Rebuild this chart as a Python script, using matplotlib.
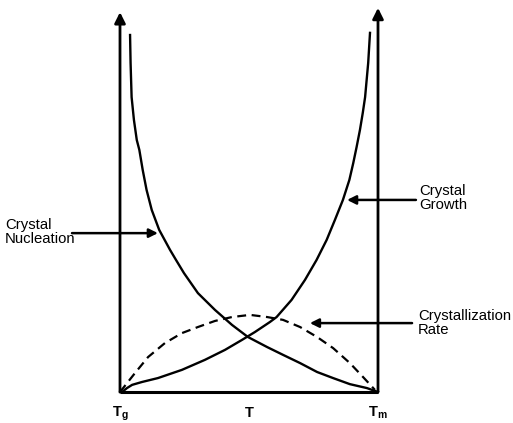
import matplotlib
matplotlib.use("Agg")
import matplotlib.pyplot as plt

# Normalized temperature (Tg = 0, Tm = 1) and relative rate (0-100)
nuc_x = [0.039, 0.041, 0.045, 0.054, 0.065, 0.075, 0.088, 0.103, 0.123, 0.152, 0.194, 0.217,
         0.248, 0.302, 0.368, 0.434, 0.496, 0.570, 0.632, 0.698, 0.764, 0.826, 0.891, 0.957, 1.0]
nuc_y = [100.0, 92.2, 82.6, 76.2, 70.6, 67.8, 62.2, 56.6, 51.0, 45.4, 39.8, 37.0,
         33.3, 27.7, 23.0, 18.8, 15.4, 12.6, 10.4, 8.1, 5.6, 3.9, 2.2, 1.1, 0.0]

gro_x = [0.0, 0.008, 0.027, 0.047, 0.085, 0.147, 0.240, 0.329, 0.407, 0.473, 0.523, 0.581,
         0.607, 0.665, 0.717, 0.762, 0.801, 0.833, 0.864, 0.889, 0.904, 0.917, 0.930,
         0.941, 0.950, 0.956, 0.962, 0.969]
gro_y = [0.0, 0.0, 1.1, 2.0, 2.8, 3.9, 6.2, 9.0, 11.8, 14.6, 16.8, 19.6,
         21.0, 25.8, 31.4, 37.0, 42.6, 48.2, 53.8, 59.4, 64.1, 68.6, 73.4,
         78.2, 82.6, 87.4, 92.2, 100.6]

rate_x = [0.0, 0.058, 0.109, 0.174, 0.240, 0.302, 0.368, 0.434, 0.504, 0.570, 0.632,
          0.698, 0.764, 0.826, 0.891, 0.942, 0.988]
rate_y = [0.0, 5.3, 9.8, 13.7, 16.5, 18.2, 19.9, 21.0, 21.6, 21.0, 20.2,
          18.2, 15.4, 12.3, 8.1, 4.2, 0.6]

tick_pos = [0.0, 0.5, 1.0]
tick_labels = [r"$\mathbf{T}_\mathbf{g}$", r"$\mathbf{T}$", r"$\mathbf{T}_\mathbf{m}$"]

plt.rcParams['font.family'] = ['Liberation Sans', 'DejaVu Sans']
plt.rcParams['mathtext.fontset'] = 'custom'
plt.rcParams['mathtext.rm'] = 'Liberation Sans'
plt.rcParams['mathtext.bf'] = 'Liberation Sans:bold'

fig = plt.figure(figsize=(5.13, 4.23), dpi=100)
ax = fig.add_axes([120/513, 31/423, 258/513, 357/423])
ax.set_xlim(0, 1)
ax.set_ylim(0, 100)
ax.axis('off')

# axes with arrows
ax.plot([0, 1], [0, 0], color='black', lw=2.2, clip_on=False, solid_capstyle='butt')
for xa, ytop in [(0, 106.4), (1, 107.6)]:
    ax.annotate('', xy=(xa, ytop), xytext=(xa, 0), annotation_clip=False,
                arrowprops=dict(arrowstyle='-|>', lw=2.0, color='black',
                                mutation_scale=16, shrinkA=0, shrinkB=0))

ax.plot(nuc_x, nuc_y, color='black', lw=1.7, clip_on=False, solid_joinstyle='round')
ax.plot(gro_x, gro_y, color='black', lw=1.7, clip_on=False, solid_joinstyle='round')
ax.plot(rate_x, rate_y, color='black', lw=1.6, clip_on=False, dashes=(4, 2.5))

for xp, lab in zip(tick_pos, tick_labels):
    ax.text(xp, -6.9, lab, ha='center', va='baseline', fontsize=10.5, clip_on=False)

# labels with arrows
ann = [
    ("Crystal\nNucleation", (-0.446, 44.8), (-0.186, 44.5), (0.147, 44.5)),
    ("Crystal\nGrowth", (1.159, 54.3), (1.147, 53.8), (0.880, 53.8)),
    ("Crystallization\nRate", (1.155, 19.3), (1.132, 19.3), (0.736, 19.3)),
]
for txt, tpos, a0, a1 in ann:
    ax.text(tpos[0], tpos[1], txt, ha='left', va='center', fontsize=10.7,
            linespacing=1.0, clip_on=False)
    ax.annotate('', xy=a1, xytext=a0, annotation_clip=False,
                arrowprops=dict(arrowstyle='-|>', lw=1.8, color='black',
                                mutation_scale=13, shrinkA=0, shrinkB=0))

fig.savefig("out.png", dpi=100)
